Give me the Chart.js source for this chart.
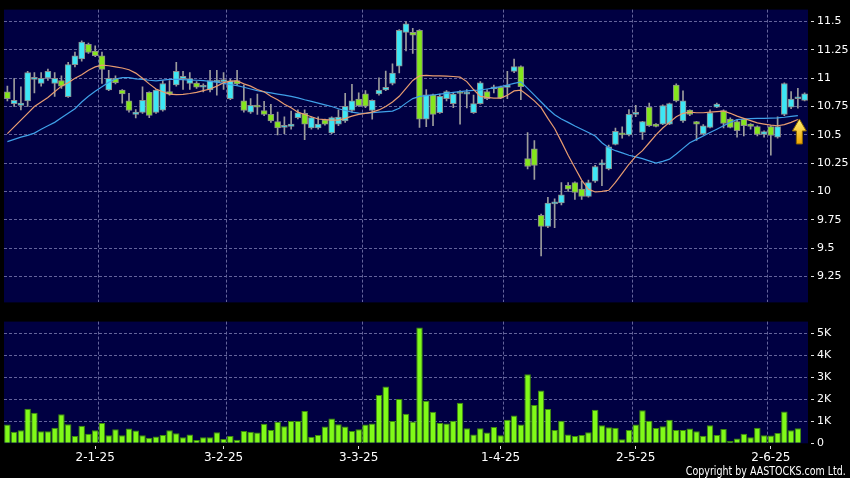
<!DOCTYPE html>
<html>
<head>
<meta charset="utf-8">
<script src="https://cdn.jsdelivr.net/npm/chart.js"></script>
<style>
  html, body { margin: 0; padding: 0; background: #000; }
  #wrap { position: relative; width: 850px; height: 478px; background: #000; overflow: hidden; }
  canvas { position: absolute; left: 0; }
  #priceChart { top: 0; }
  #volChart { top: 312px; }
  #copy { position: absolute; right: 4px; top: 464px; line-height: 12px; color: #fff;
          font: 12px 'DejaVu Sans Condensed', 'DejaVu Sans', sans-serif;
          transform: scaleX(0.88); transform-origin: right center; white-space: nowrap; }
</style>
</head>
<body>
<div id="wrap">
  <canvas id="priceChart" width="850" height="312"></canvas>
  <canvas id="volChart" width="850" height="166"></canvas>
  <div id="copy">Copyright by AASTOCKS.com Ltd.</div>
</div>
<script>
// daily candles, Dec-24 .. Jun-25
const open = [
  10.88, 10.776, 10.76, 10.80, 10.99, 10.954, 11.003, 10.953, 10.98, 10.836,
  11.12, 11.17, 11.30, 11.24, 11.198, 10.896, 11.0, 10.896, 10.80, 10.68,
  10.698, 10.876, 10.698, 10.718, 10.882, 10.94, 10.997, 10.953, 10.957, 10.92,
  10.896, 10.965, 10.97, 10.82, 10.98, 10.80, 10.70, 10.755, 10.715, 10.68,
  10.617, 10.566, 10.574, 10.652, 10.69, 10.56, 10.56, 10.632, 10.517, 10.594,
  10.623, 10.715, 10.816, 10.862, 10.715, 10.862, 10.896, 10.953, 11.106, 11.405,
  11.405, 11.422, 10.638, 10.853, 10.695, 10.82, 10.776, 10.882, 10.86, 10.695,
  10.776, 10.882, 10.905, 10.919, 10.919, 11.06, 11.103, 10.29, 10.377, 9.79,
  9.69, 9.89, 9.899, 10.054, 10.078, 10.02, 9.957, 10.09, 10.235, 10.198,
  10.416, 10.514, 10.50, 10.68, 10.522, 10.744, 10.594, 10.595, 10.595, 10.94,
  10.623, 10.718, 10.617, 10.509, 10.566, 10.744, 10.715, 10.638, 10.617, 10.638,
  10.594, 10.572, 10.503, 10.572, 10.48, 10.68, 10.744, 10.819, 10.804
];
const close = [
  10.82, 10.804, 10.78, 11.05, 10.995, 11.0, 11.06, 11.0, 10.93, 11.12,
  11.198, 11.32, 11.227, 11.20, 11.078, 11.0, 10.96, 10.862, 10.715, 10.70,
  10.804, 10.672, 10.896, 10.953, 10.86, 11.06, 11.017, 10.997, 10.922, 10.935,
  10.98, 10.97, 10.975, 10.977, 10.95, 10.715, 10.76, 10.745, 10.68, 10.623,
  10.56, 10.566, 10.594, 10.695, 10.595, 10.652, 10.595, 10.595, 10.652, 10.656,
  10.752, 10.80, 10.758, 10.752, 10.804, 10.896, 10.919, 11.046, 11.422, 11.48,
  11.38, 10.638, 10.853, 10.68, 10.839, 10.882, 10.859, 10.865, 10.862, 10.776,
  10.96, 10.819, 10.925, 10.824, 10.94, 11.103, 10.925, 10.22, 10.229, 9.69,
  9.897, 9.89, 9.971, 10.02, 9.991, 9.957, 10.078, 10.22, 10.235, 10.394,
  10.531, 10.50, 10.68, 10.68, 10.617, 10.58, 10.574, 10.759, 10.776, 10.80,
  10.80, 10.68, 10.595, 10.58, 10.695, 10.772, 10.60, 10.566, 10.537, 10.58,
  10.574, 10.503, 10.529, 10.494, 10.572, 10.953, 10.816, 10.819, 10.862
];
const high = [
  10.93, 10.997, 10.925, 11.06, 11.05, 11.05, 11.08, 11.05, 11.02, 11.14,
  11.23, 11.33, 11.31, 11.285, 11.23, 11.07, 11.02, 10.90, 10.867, 10.724,
  10.925, 10.88, 10.90, 10.98, 10.98, 11.14, 11.06, 11.05, 10.97, 10.95,
  11.07, 11.07, 11.05, 10.99, 11.069, 10.94, 10.82, 10.86, 10.796, 10.77,
  10.70, 10.66, 10.71, 10.72, 10.72, 10.66, 10.66, 10.64, 10.66, 10.72,
  10.867, 10.945, 10.87, 10.89, 10.81, 11.003, 11.063, 11.126, 11.43, 11.50,
  11.44, 11.43, 10.90, 10.86, 10.86, 10.89, 10.87, 10.89, 10.90, 10.85,
  10.97, 10.90, 10.94, 10.93, 11.06, 11.169, 11.11, 10.52, 10.45, 9.80,
  9.948, 9.934, 10.078, 10.078, 10.085, 10.09, 10.10, 10.23, 10.28, 10.41,
  10.56, 10.57, 10.724, 10.76, 10.62, 10.78, 10.60, 10.765, 10.78, 10.95,
  10.888, 10.72, 10.62, 10.59, 10.72, 10.78, 10.72, 10.65, 10.63, 10.64,
  10.60, 10.58, 10.535, 10.58, 10.66, 10.96, 10.882, 10.91, 10.87
];
const low = [
  10.80, 10.75, 10.72, 10.75, 10.87, 10.93, 10.98, 10.84, 10.91, 10.83,
  11.10, 11.15, 11.22, 11.19, 10.953, 10.89, 10.95, 10.78, 10.70, 10.65,
  10.69, 10.652, 10.69, 10.71, 10.85, 10.93, 10.90, 10.90, 10.91, 10.88,
  10.88, 10.85, 10.90, 10.81, 10.94, 10.70, 10.69, 10.68, 10.67, 10.61,
  10.50, 10.51, 10.55, 10.64, 10.457, 10.55, 10.55, 10.585, 10.51, 10.58,
  10.61, 10.70, 10.75, 10.74, 10.638, 10.85, 10.89, 10.94, 11.046, 11.24,
  11.22, 10.566, 10.572, 10.58, 10.69, 10.80, 10.74, 10.595, 10.738, 10.69,
  10.77, 10.81, 10.87, 10.82, 10.82, 11.05, 10.81, 10.198, 10.106, 9.431,
  9.68, 9.68, 9.88, 10.0, 9.93, 9.93, 9.95, 10.08, 10.05, 10.19,
  10.41, 10.47, 10.49, 10.66, 10.46, 10.575, 10.57, 10.59, 10.59, 10.79,
  10.61, 10.67, 10.45, 10.50, 10.56, 10.74, 10.56, 10.56, 10.48, 10.49,
  10.55, 10.49, 10.48, 10.32, 10.47, 10.67, 10.73, 10.735, 10.80
];
// moving averages
const maShort = [
  10.51, 10.57, 10.63, 10.69, 10.75, 10.79, 10.83, 10.88, 10.93, 10.96,
  11.00, 11.03, 11.07, 11.10, 11.115, 11.11, 11.10, 11.09, 11.075, 11.045,
  11.00, 10.95, 10.905, 10.88, 10.86, 10.855, 10.857, 10.865, 10.875, 10.89,
  10.905, 10.93, 10.96, 10.975, 10.977, 10.95, 10.93, 10.90, 10.88, 10.84,
  10.81, 10.77, 10.74, 10.70, 10.68, 10.66, 10.64, 10.635, 10.63, 10.63,
  10.645, 10.665, 10.68, 10.69, 10.70, 10.72, 10.75, 10.79, 10.84, 10.91,
  10.98, 11.02, 11.025, 11.02, 11.02, 11.018, 11.015, 11.01, 10.97, 10.90,
  10.84, 10.83, 10.825, 10.824, 10.85, 10.888, 10.895, 10.85, 10.80, 10.74,
  10.645, 10.556, 10.44, 10.32, 10.21, 10.10, 10.02, 9.995, 10.0, 10.01,
  10.08, 10.16, 10.24, 10.31, 10.36, 10.43, 10.50, 10.56, 10.61, 10.66,
  10.69, 10.70, 10.695, 10.695, 10.70, 10.705, 10.71, 10.69, 10.665, 10.645,
  10.625, 10.605, 10.595, 10.585, 10.58, 10.59, 10.61, 10.635, null
];
const maLong = [
  10.44, 10.46, 10.48, 10.495, 10.515, 10.55, 10.58, 10.61, 10.65, 10.69,
  10.73, 10.79, 10.84, 10.885, 10.925, 10.965, 10.993, 11.005, 11.005, 10.995,
  10.99, 10.982, 10.977, 10.983, 10.99, 10.99, 10.987, 10.984, 10.982, 10.978,
  10.972, 10.965, 10.955, 10.944, 10.935, 10.92, 10.905, 10.89, 10.88, 10.87,
  10.86, 10.85, 10.84, 10.827, 10.81, 10.795, 10.78, 10.765, 10.75, 10.73,
  10.715, 10.70, 10.692, 10.69, 10.695, 10.70, 10.705, 10.71, 10.735, 10.78,
  10.82, 10.84, 10.846, 10.852, 10.86, 10.866, 10.875, 10.882, 10.888, 10.892,
  10.896, 10.905, 10.915, 10.925, 10.94, 10.955, 10.968, 10.91, 10.85, 10.79,
  10.73, 10.677, 10.64, 10.61, 10.578, 10.55, 10.52, 10.49, 10.43, 10.385,
  10.36, 10.34, 10.32, 10.305, 10.29, 10.27, 10.25, 10.265, 10.285, 10.33,
  10.38, 10.43, 10.46, 10.49, 10.52, 10.55, 10.58, 10.61, 10.635, 10.64,
  10.643, 10.645, 10.646, 10.648, 10.65, 10.655, 10.663, 10.67, null
];
// volume in thousands (last day not shown)
const vol = [
  0.85, 0.53, 0.59, 1.57, 1.39, 0.55, 0.55, 0.71, 1.32, 0.87,
  0.33, 0.80, 0.43, 0.59, 0.92, 0.37, 0.64, 0.37, 0.67, 0.58,
  0.37, 0.25, 0.31, 0.38, 0.59, 0.46, 0.28, 0.40, 0.15, 0.27,
  0.27, 0.50, 0.19, 0.33, 0.16, 0.56, 0.52, 0.49, 0.89, 0.61,
  0.98, 0.77, 1.01, 1.01, 1.47, 0.30, 0.38, 0.76, 1.13, 0.87,
  0.76, 0.56, 0.64, 0.86, 0.90, 2.20, 2.58, 1.01, 2.02, 1.34,
  0.99, 5.27, 1.93, 1.44, 0.92, 0.90, 1.02, 1.84, 0.68, 0.40,
  0.68, 0.49, 0.74, 0.37, 1.07, 1.26, 0.86, 3.14, 1.74, 2.40,
  1.56, 0.61, 1.02, 0.40, 0.33, 0.38, 0.50, 1.53, 0.82, 0.73,
  0.71, 0.18, 0.61, 0.86, 1.50, 1.02, 0.70, 0.78, 1.07, 0.61,
  0.61, 0.67, 0.55, 0.34, 0.82, 0.38, 0.65, 0.10, 0.22, 0.43,
  0.28, 0.71, 0.37, 0.36, 0.47, 1.45, 0.59, 0.68, null
];
const tickIdx = [13, 32, 52, 73, 93, 113];
const tickText = ['2-1-25', '3-2-25', '3-3-25', '1-4-25', '2-5-25', '2-6-25'];
const gridIdx = [14, 33, 53, 74, 93, 113];   // month boundaries
const arrowAt = { index: 117, price: 10.64 };

const days = open.map((v, i) => i);

Chart.defaults.font.family = "'DejaVu Sans', sans-serif";
Chart.defaults.color = '#ffffff';
Chart.defaults.animation = false;
Chart.defaults.plugins.legend.display = false;
Chart.defaults.plugins.tooltip.enabled = false;

const navy = '#000042';
const gridColor = 'rgba(105,105,160,0.95)';
const cyan = '#3de6f5';
const green = '#84e61c';

const plotBg = {
  id: 'plotBg',
  beforeDraw(chart) {
    const a = chart.chartArea, ctx = chart.ctx;
    ctx.save();
    ctx.fillStyle = navy;
    ctx.fillRect(a.left, a.top, a.right - a.left, a.bottom - a.top);
    ctx.restore();
  }
};

// yellow up-arrow under the last candle
const arrowMark = {
  id: 'arrowMark',
  afterDatasetsDraw(chart) {
    const xs = chart.scales.x, ys = chart.scales.y, ctx = chart.ctx;
    const cx = xs.getPixelForValue(arrowAt.index) + 1.5;
    const tip = ys.getPixelForValue(arrowAt.price);
    const g = ctx.createLinearGradient(0, tip, 0, tip + 25);
    g.addColorStop(0, '#fff27a');
    g.addColorStop(1, '#f0a400');
    ctx.save();
    ctx.beginPath();
    ctx.moveTo(cx, tip);
    ctx.lineTo(cx + 7, tip + 12);
    ctx.lineTo(cx + 3, tip + 12);
    ctx.lineTo(cx + 3, tip + 25);
    ctx.lineTo(cx - 3, tip + 25);
    ctx.lineTo(cx - 3, tip + 12);
    ctx.lineTo(cx - 7, tip + 12);
    ctx.closePath();
    ctx.fillStyle = g;
    ctx.fill();
    ctx.strokeStyle = '#8a6400';
    ctx.lineWidth = 1;
    ctx.stroke();
    ctx.restore();
  }
};

function monthGrid(extra) {
  return Object.assign({
    type: 'category',
    offset: true,
    ticks: { display: false, autoSkip: false },
    border: { display: false, dash: [3, 2] },
    grid: {
      offset: true,
      drawTicks: false,
      color: c => gridIdx.includes(c.index) ? gridColor : 'rgba(0,0,0,0)'
    }
  }, extra);
}

// price chart
new Chart(document.getElementById('priceChart'), {
  type: 'bar',
  data: {
    labels: days,
    datasets: [
      { type: 'line', data: maShort, borderColor: '#e89c70', borderWidth: 1.2, pointRadius: 0, tension: 0 },
      { type: 'line', data: maLong, borderColor: '#3fa0e8', borderWidth: 1.2, pointRadius: 0, tension: 0 },
      {
        data: open.map((o, i) => [o, close[i]]),
        backgroundColor: open.map((o, i) => close[i] >= o ? cyan : green),
        borderColor: '#8c8c8c', borderWidth: 1, borderSkipped: false,
        barThickness: 6, minBarLength: 2, grouped: false
      },
      {
        data: low.map((l, i) => [l, high[i]]),
        backgroundColor: '#9c9c9c', barThickness: 1, grouped: false
      }
    ]
  },
  options: {
    responsive: false,
    layout: { padding: { left: 4, right: 0, top: 6, bottom: 6 } },
    scales: {
      x: monthGrid({}),
      y: {
        position: 'right',
        min: 9.02, max: 11.606,
        afterFit: s => { s.width = 42; },
        ticks: {
          stepSize: 0.25, includeBounds: false, padding: 3,
          font: { size: 11 }, color: '#fff',
          callback: v => String(Math.round(v * 100) / 100)
        },
        grid: { color: gridColor, tickColor: '#e0e0e0', tickLength: 6, tickBorderDash: [0, 3, 3, 20] },
        border: { display: false, dash: [3, 2] }
      }
    }
  },
  plugins: [plotBg, arrowMark]
});

// volume chart
new Chart(document.getElementById('volChart'), {
  type: 'bar',
  data: {
    labels: days,
    datasets: [{
      data: vol,
      backgroundColor: '#80fa18', borderColor: '#3e8c0c', borderWidth: 1,
      barPercentage: 0.96, categoryPercentage: 1
    }]
  },
  options: {
    responsive: false,
    layout: { padding: { left: 4, right: 0, top: 7, bottom: 4.7 } },
    scales: {
      x: {
        type: 'category',
        offset: true,
        afterFit: s => { s.height = 30; },
        ticks: {
          autoSkip: false, maxRotation: 0, minRotation: 0, padding: 1,
          font: { size: 12 }, color: '#fff',
          callback: (v, i) => {
            const k = tickIdx.indexOf(i);
            return k >= 0 ? tickText[k] : '';
          }
        },
        grid: {
          offset: false, drawOnChartArea: false, tickLength: 6,
          tickColor: c => tickIdx.includes(c.index) ? '#e0e0e0' : 'rgba(0,0,0,0)',
          tickBorderDash: [0, 3, 3, 20]
        },
        border: { display: false }
      },
      xg: monthGrid({ position: 'bottom' }),
      y: {
        position: 'right',
        min: 0, max: 5.535,
        afterFit: s => { s.width = 42; },
        ticks: {
          stepSize: 1, includeBounds: false, padding: 3,
          font: { size: 11 }, color: '#fff',
          callback: v => v === 0 ? '0' : v + 'K'
        },
        grid: {
          color: c => c.tick && c.tick.value === 0 ? 'rgba(0,0,0,0)' : gridColor,
          tickColor: '#e0e0e0', tickLength: 6, tickBorderDash: [0, 3, 3, 20]
        },
        border: { display: false, dash: [3, 2] }
      }
    }
  },
  plugins: [plotBg]
});
</script>
</body>
</html>
